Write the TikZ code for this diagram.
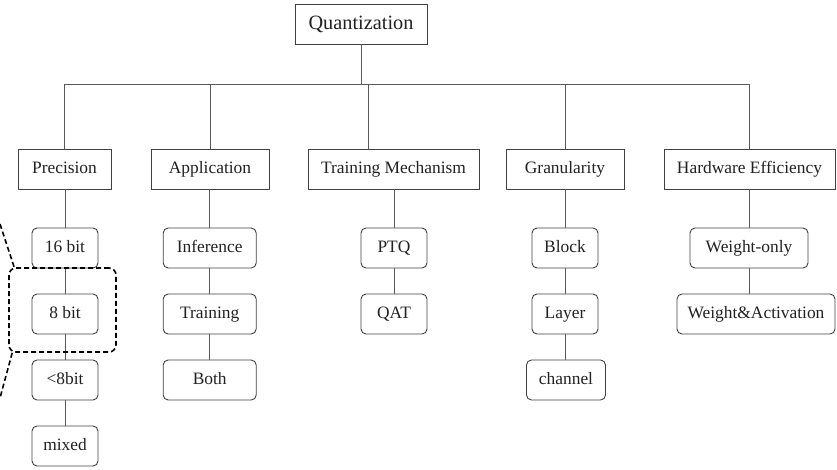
\documentclass[tikz,border=0pt]{standalone}
\usepackage{fontspec}
\setmainfont{Liberation Serif}
\begin{document}
\begin{tikzpicture}[x=1pt,y=-1pt,
  every node/.style={font=\fontsize{17.4}{20}\selectfont, text=black!87, inner sep=0pt,
    text height=12pt, text depth=3.6pt},
  catbox/.style={draw=black!75, line width=0.9pt, minimum height=40pt},
  rootbox/.style={catbox, font=\fontsize{20.3}{23}\selectfont, text height=14pt, text depth=4pt},
  leafbox/.style={draw=black!75, line width=0.9pt, rounded corners=5pt, minimum height=40pt},
  conn/.style={draw=black!65, line width=0.9pt},
  hilite/.style={draw=black, line width=1.6pt, dash pattern=on 5pt off 3pt, rounded corners=7pt}]
\useasboundingbox (0,0) rectangle (837,469);

% root and categories
\node[rootbox, minimum width=132pt] (root) at (361,24) {Quantization};
\node[catbox, minimum width=93pt]  (prec) at (64.5,169) {Precision};
\node[catbox, minimum width=118pt] (app)  at (210,169) {Application};
\node[catbox, minimum width=171pt] (tm)   at (393.5,169) {Training Mechanism};
\node[catbox, minimum width=118pt] (gran) at (565,169) {Granularity};
\node[catbox, minimum width=171pt] (hw)   at (749.5,169) {Hardware Efficiency};

% precision column
\node[leafbox, minimum width=66pt] (b16)   at (65,248) {16 bit};
\node[leafbox, minimum width=66pt] (b8)    at (65,314) {8 bit};
\node[leafbox, minimum width=66pt] (blt8)  at (65,380) {<8bit};
\node[leafbox, minimum width=66pt] (bmix)  at (65,446) {mixed};

% application column
\node[leafbox, minimum width=93pt] (inf)   at (209.7,248) {Inference};
\node[leafbox, minimum width=93pt] (train) at (209.7,314) {Training};
\node[leafbox, minimum width=93pt] (both)  at (209.7,380) {Both};

% training mechanism column
\node[leafbox, minimum width=66pt] (ptq) at (394,248) {PTQ};
\node[leafbox, minimum width=66pt] (qat) at (394,314) {QAT};

% granularity column
\node[leafbox, minimum width=66pt] (blk) at (565,248) {Block};
\node[leafbox, minimum width=66pt] (lay) at (565,314) {Layer};
\node[leafbox, minimum width=79pt] (chn) at (566,380) {channel};

% hardware efficiency column
\node[leafbox, minimum width=118pt] (wo) at (749,248) {Weight-only};
\node[leafbox, minimum width=158pt] (wa) at (756,314) {Weight\&Activation};

% tree connectors
\coordinate (bar) at (0,84);
\coordinate (tmdrop) at (368,84);
\draw[conn] (root.south) -- (root.south |- bar);
\draw[conn] (prec.north |- bar) -- (hw.north |- bar);
\draw[conn] (prec.north |- bar) -- (prec.north);
\draw[conn] (app.north |- bar) -- (app.north);
\draw[conn] (tmdrop) -- (tmdrop |- tm.north);
\draw[conn] (gran.north |- bar) -- (gran.north);
\draw[conn] (hw.north |- bar) -- (hw.north);

\draw[conn] (b16.north |- prec.south) -- (b16.north);
\draw[conn] (b16.south) -- (b8.north);
\draw[conn] (b8.south) -- (blt8.north);
\draw[conn] (blt8.south) -- (bmix.north);

\draw[conn] (inf.north |- app.south) -- (inf.north);
\draw[conn] (inf.south) -- (train.north);
\draw[conn] (train.south) -- (both.north);

\draw[conn] (ptq.north |- tm.south) -- (ptq.north);
\draw[conn] (ptq.south) -- (qat.north);

\draw[conn] (blk.north |- gran.south) -- (blk.north);
\draw[conn] (blk.south) -- (lay.north);
\draw[conn] (lay.south) -- (lay.south |- chn.north);

\draw[conn] (wo.north |- hw.south) -- (wo.north);
\draw[conn] (wo.south) -- (wo.south |- wa.north);

% highlighted 8-bit entry with zoom lines
\node[hilite, minimum width=107pt, minimum height=84pt] (hl) at (62.5,310) {};
\coordinate (zup) at (0,224);
\coordinate (zdown) at (0,398);
\draw[hilite, rounded corners=0pt] (zup) -- ([xshift=6pt]hl.north west);
\draw[hilite, rounded corners=0pt] ([xshift=4pt]hl.south west) -- (zdown);
\end{tikzpicture}
\end{document}
